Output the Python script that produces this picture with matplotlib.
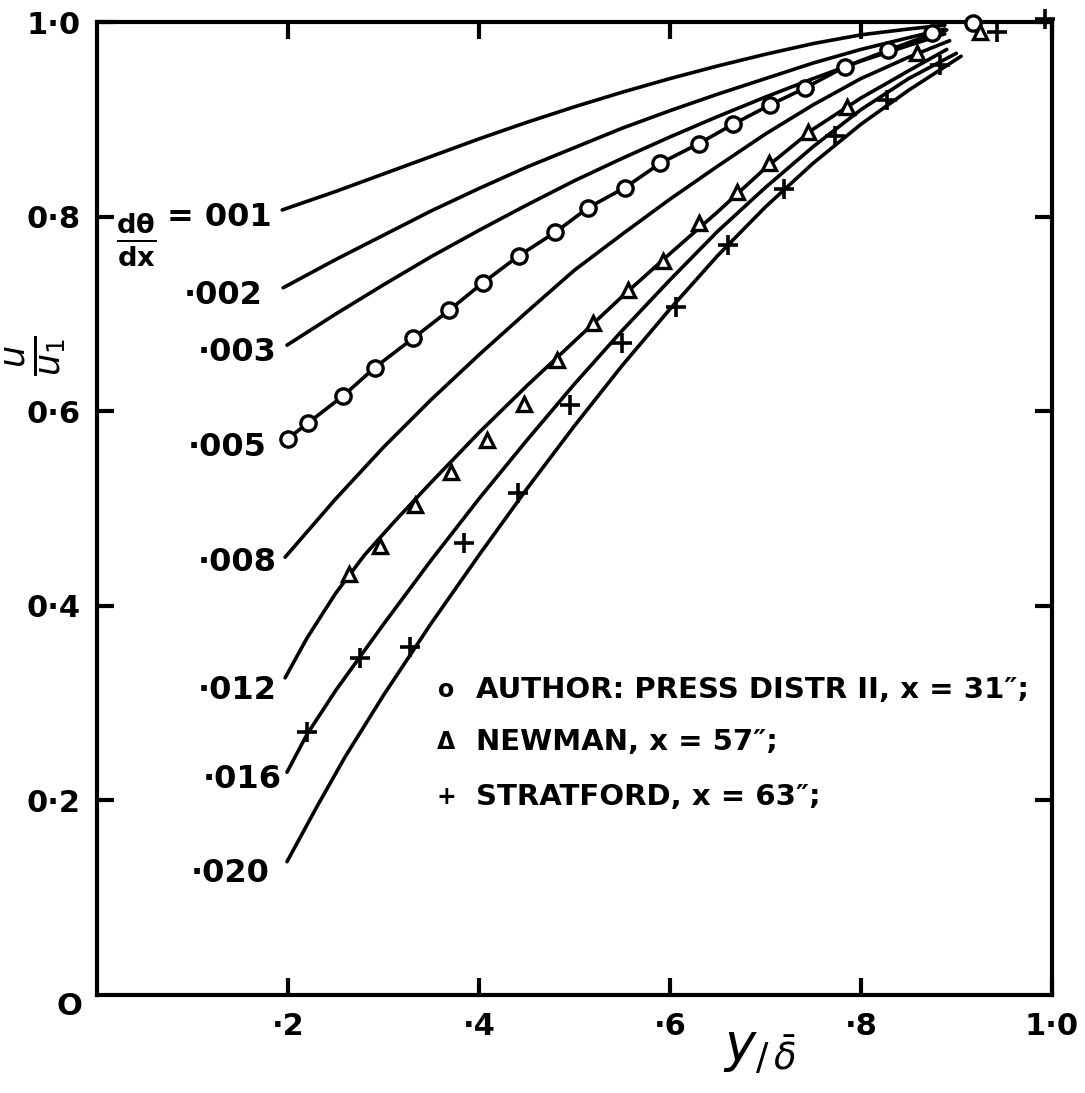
import matplotlib.pyplot as plt

# curves of constant d(theta)/dx (x = y/delta, y = u/u1)
c001_x = [0.194, 0.25, 0.30, 0.35, 0.40, 0.45, 0.50, 0.55, 0.60, 0.65, 0.70, 0.75, 0.80, 0.85, 0.888]
c001_y = [0.807, 0.826, 0.844, 0.862, 0.880, 0.897, 0.913, 0.928, 0.942, 0.955, 0.967, 0.978, 0.987, 0.993, 0.997]
c002_x = [0.195, 0.25, 0.30, 0.35, 0.40, 0.45, 0.50, 0.55, 0.60, 0.65, 0.70, 0.75, 0.80, 0.85, 0.888]
c002_y = [0.727, 0.756, 0.781, 0.806, 0.829, 0.851, 0.871, 0.891, 0.909, 0.926, 0.942, 0.958, 0.972, 0.984, 0.993]
c003_x = [0.199, 0.25, 0.30, 0.35, 0.40, 0.45, 0.50, 0.55, 0.60, 0.65, 0.70, 0.75, 0.80, 0.85, 0.888]
c003_y = [0.668, 0.700, 0.730, 0.759, 0.786, 0.812, 0.837, 0.860, 0.882, 0.903, 0.923, 0.942, 0.960, 0.976, 0.988]
c005_x = [0.200, 0.221, 0.258, 0.291, 0.331, 0.369, 0.404, 0.442, 0.480, 0.514,
          0.553, 0.590, 0.630, 0.666, 0.705, 0.741, 0.783, 0.828, 0.875, 0.890]
c005_y = [0.572, 0.588, 0.616, 0.645, 0.675, 0.704, 0.732, 0.760, 0.784, 0.809,
          0.830, 0.855, 0.875, 0.895, 0.915, 0.932, 0.954, 0.971, 0.988, 0.992]
c008_x = [0.197, 0.25, 0.30, 0.35, 0.40, 0.45, 0.50, 0.55, 0.60, 0.65, 0.70, 0.75, 0.80, 0.85, 0.893]
c008_y = [0.450, 0.510, 0.563, 0.612, 0.658, 0.702, 0.745, 0.782, 0.818, 0.852, 0.885, 0.915, 0.942, 0.964, 0.981]
c012_x = [0.197, 0.22, 0.25, 0.28, 0.31, 0.35, 0.40, 0.45, 0.50, 0.55, 0.60, 0.65, 0.70, 0.75, 0.80, 0.85, 0.89]
c012_y = [0.326, 0.367, 0.413, 0.452, 0.485, 0.527, 0.578, 0.626, 0.672, 0.718, 0.762, 0.805, 0.850, 0.890, 0.922, 0.950, 0.972]
c016_x = [0.199, 0.22, 0.25, 0.275, 0.30, 0.35, 0.40, 0.45, 0.50, 0.55, 0.60, 0.65, 0.70, 0.75, 0.80, 0.85, 0.90]
c016_y = [0.229, 0.268, 0.313, 0.347, 0.381, 0.447, 0.510, 0.570, 0.628, 0.683, 0.735, 0.785, 0.830, 0.872, 0.910, 0.942, 0.968]
c020_x = [0.199, 0.23, 0.26, 0.30, 0.35, 0.40, 0.45, 0.50, 0.55, 0.60, 0.65, 0.70, 0.75, 0.80, 0.85, 0.905]
c020_y = [0.137, 0.193, 0.245, 0.308, 0.382, 0.452, 0.520, 0.585, 0.647, 0.705, 0.760, 0.810, 0.855, 0.895, 0.930, 0.965]

grad_labels = ["= 001", "·002", "·003", "·005", "·008", "·012", "·016", "·020"]
# where each label sits (right end, data coords)
label_x = [0.183, 0.173, 0.188, 0.178, 0.188, 0.188, 0.194, 0.181]
label_y = [0.799, 0.719, 0.660, 0.563, 0.445, 0.313, 0.221, 0.125]

# measured profiles
author_x = [0.200, 0.221, 0.258, 0.291, 0.331, 0.369, 0.404, 0.442, 0.480, 0.514,
            0.553, 0.590, 0.630, 0.666, 0.705, 0.741, 0.783, 0.828, 0.875, 0.917]
author_y = [0.572, 0.588, 0.616, 0.645, 0.675, 0.704, 0.732, 0.760, 0.784, 0.809,
            0.830, 0.855, 0.875, 0.895, 0.915, 0.932, 0.954, 0.971, 0.989, 0.999]
newman_x = [0.264, 0.296, 0.333, 0.371, 0.408, 0.447, 0.482, 0.519, 0.556, 0.593,
            0.631, 0.670, 0.704, 0.745, 0.785, 0.859, 0.925]
newman_y = [0.433, 0.462, 0.504, 0.538, 0.570, 0.608, 0.653, 0.691, 0.725, 0.755,
            0.794, 0.825, 0.855, 0.887, 0.913, 0.968, 0.990]
stratford_x = [0.220, 0.275, 0.328, 0.384, 0.441, 0.495, 0.550, 0.606, 0.661, 0.720,
               0.773, 0.827, 0.883, 0.943, 0.993]
stratford_y = [0.270, 0.346, 0.358, 0.465, 0.516, 0.606, 0.670, 0.707, 0.771, 0.829,
               0.883, 0.920, 0.956, 0.990, 1.003]

tick_vals = [0.2, 0.4, 0.6, 0.8, 1.0]
xtick_labels = ["·2", "·4", "·6", "·8", "1·0"]
ytick_labels = ["0·2", "0·4", "0·6", "0·8", "1·0"]

plt.rcParams['font.family'] = ['DejaVu Sans']
plt.rcParams['mathtext.fontset'] = 'dejavusans'

fig = plt.figure(figsize=(10.85, 10.93), dpi=100)
ax = fig.add_axes([0.0894, 0.0897, 0.880, 0.890])
ax.set_xlim(0, 1)
ax.set_ylim(0, 1)

curves = [(c001_x, c001_y), (c002_x, c002_y), (c003_x, c003_y), (c005_x, c005_y),
          (c008_x, c008_y), (c012_x, c012_y), (c016_x, c016_y), (c020_x, c020_y)]
for cx, cy in curves:
    ax.plot(cx, cy, color='black', lw=2.6, solid_capstyle='round',
            solid_joinstyle='round', zorder=2)

for lab, lx, ly in zip(grad_labels, label_x, label_y):
    ax.text(lx, ly, lab, ha='right', va='center', fontsize=23, fontweight='bold')
ax.text(0.041, 0.776, r'$\mathbf{\frac{d\theta}{dx}}$', ha='center', va='center', fontsize=28)

ax.plot(author_x, author_y, 'o', ms=11, mfc='white', mec='black', mew=2.4,
        ls='none', zorder=4, clip_on=False)
ax.plot(newman_x, newman_y, '^', ms=10, mfc='white', mec='black', mew=2.4,
        ls='none', zorder=4, clip_on=False)
ax.plot(stratford_x, stratford_y, '+', ms=15, mec='black', mew=2.6,
        ls='none', zorder=4, clip_on=False)

# key
key_rows = ["AUTHOR: PRESS DISTR II, x = 31″;", "NEWMAN, x = 57″;", "STRATFORD, x = 63″;"]
key_syms = ["o", "Δ", "+"]
key_y = [0.313, 0.260, 0.203]
for sym, txt, ky in zip(key_syms, key_rows, key_y):
    ax.text(0.366, ky, sym, ha='center', va='center', fontsize=17, fontweight='bold')
    ax.text(0.397, ky, txt, ha='left', va='center', fontsize=21, fontweight='bold')

# axes frame and ticks
for sp in ax.spines.values():
    sp.set_linewidth(3)
ax.set_xticks(tick_vals)
ax.set_xticklabels(xtick_labels)
ax.set_yticks(tick_vals)
ax.set_yticklabels(ytick_labels)
ax.tick_params(direction='in', length=12, width=3, top=True, right=True,
               labelsize=22, pad=12)
for t in ax.get_xticklabels() + ax.get_yticklabels():
    t.set_fontweight('bold')
ax.text(-0.029, -0.012, "O", ha='center', va='center', fontsize=22, fontweight='bold')

fig.text(0.700, 0.038, r'$y_{/\,\bar{\delta}}$', ha='center', va='center', fontsize=38)
fig.text(0.033, 0.675, r'$\frac{u}{u_1}$', ha='center', va='center', fontsize=36, rotation=90)

fig.savefig('out.png', dpi=100)
